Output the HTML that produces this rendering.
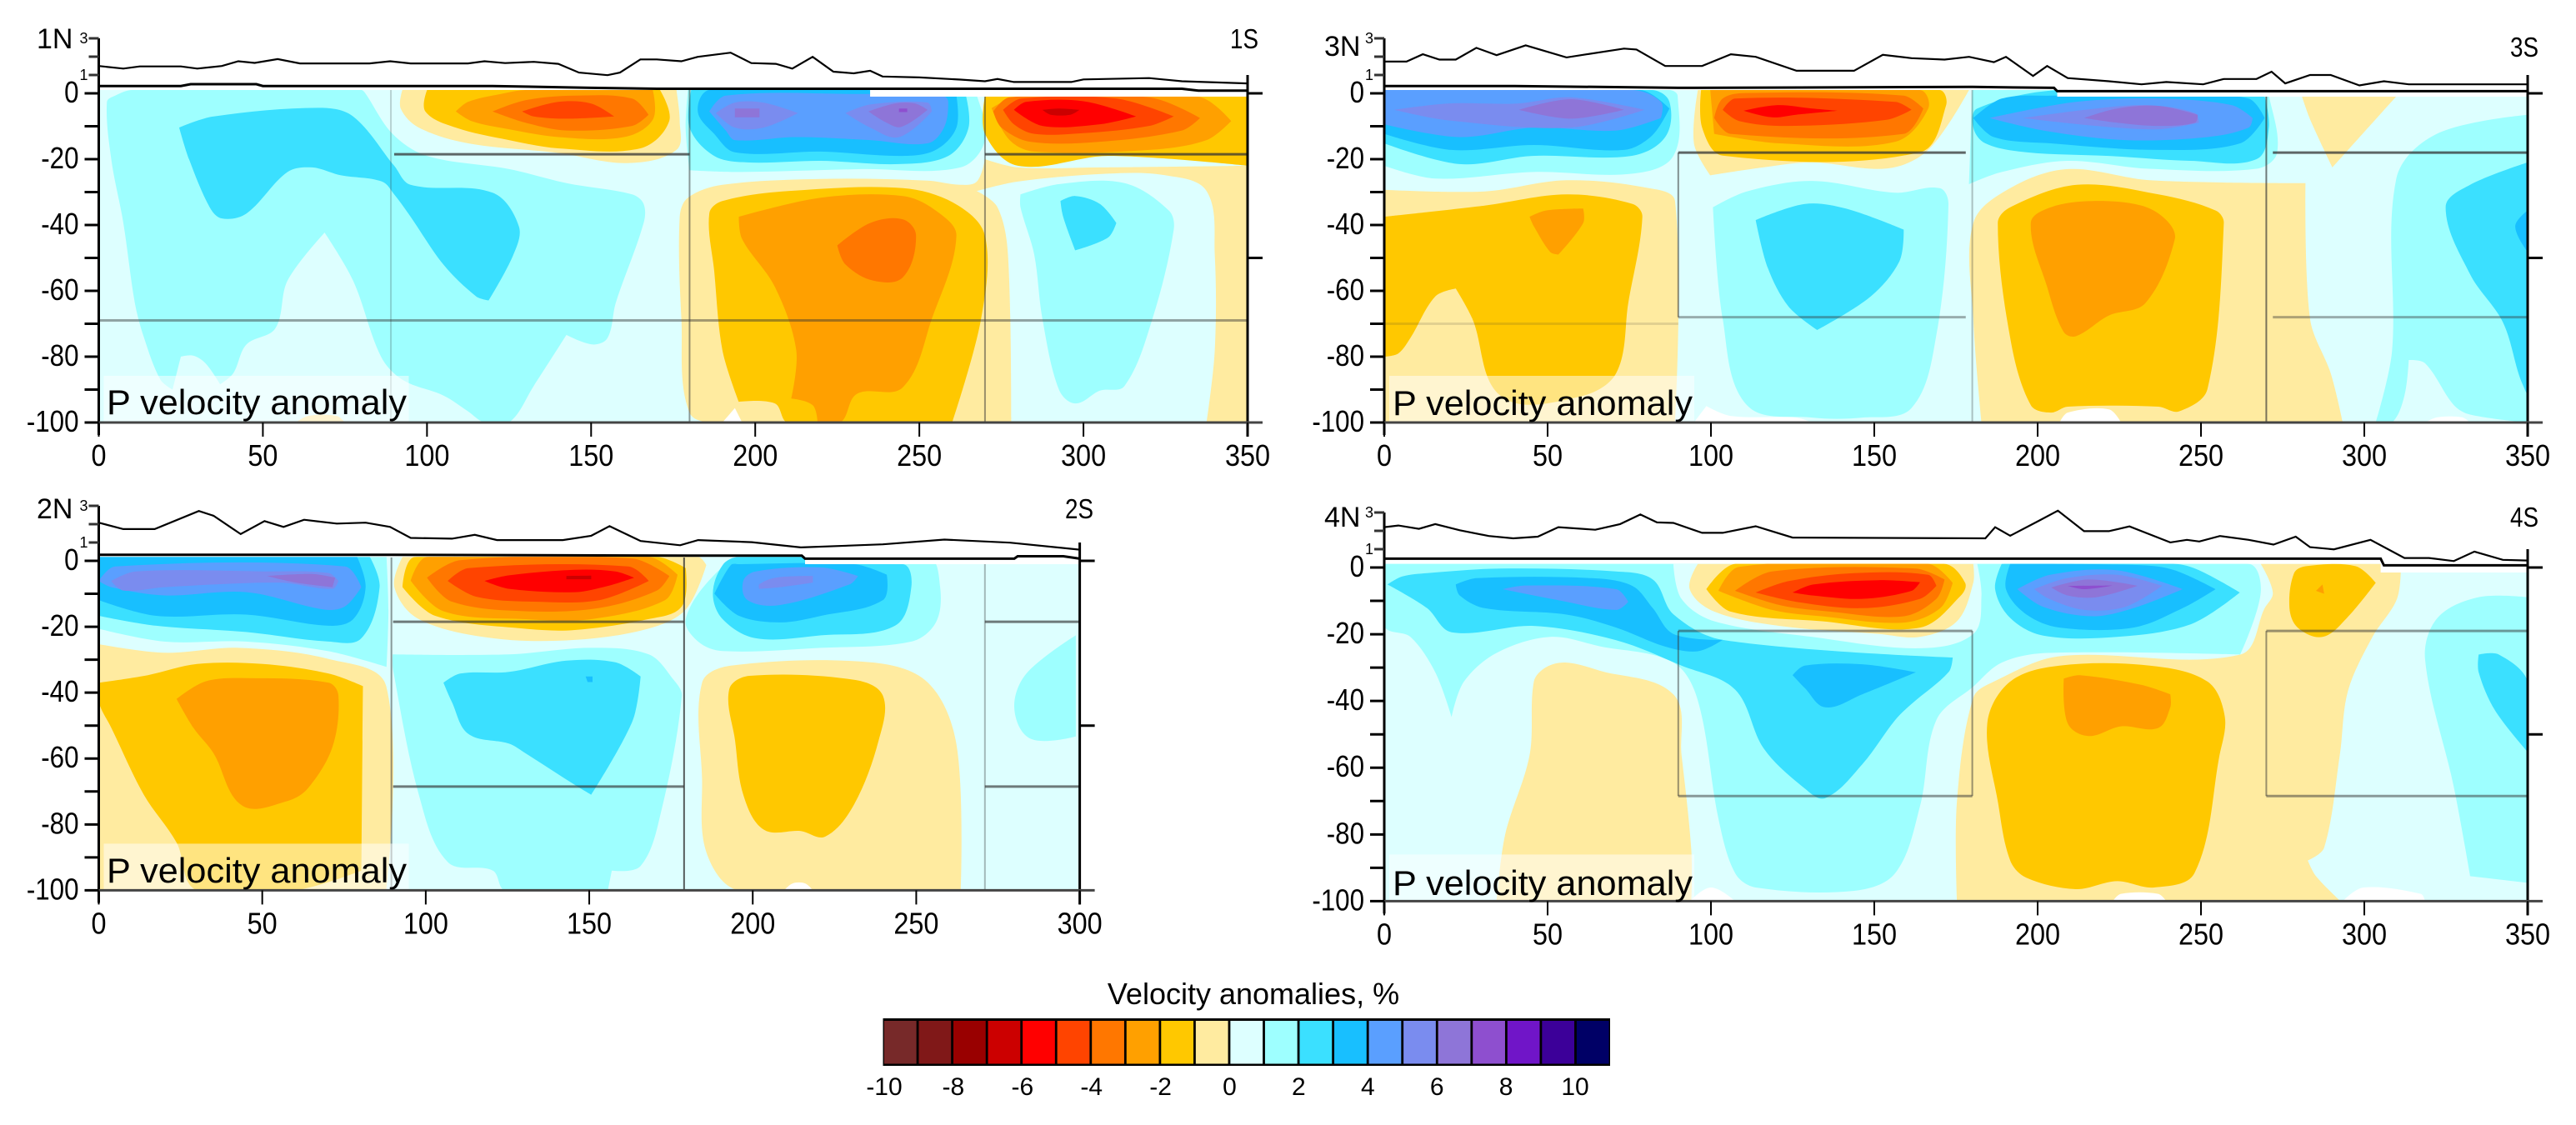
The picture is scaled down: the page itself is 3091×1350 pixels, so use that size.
<!DOCTYPE html>
<html lang="en">
<head>
<meta charset="utf-8">
<title>P velocity anomaly sections</title>
<style>
html,body{margin:0;padding:0;background:#fff;}
svg{display:block;}
text{font-family:"Liberation Sans",sans-serif;fill:#000;}
</style>
</head>
<body>
<svg id="chart" xmlns="http://www.w3.org/2000/svg" width="3091" height="1350" viewBox="0 0 3091 1350">
<g id="plots"></g>
<g id="legend"></g>

<text x="44" y="58" font-size="34">1N</text>
<text x="1476" y="58" font-size="33" textLength="34" lengthAdjust="spacingAndGlyphs">1S</text>
<text x="1589" y="67" font-size="34">3N</text>
<text x="3012" y="68" font-size="33" textLength="34" lengthAdjust="spacingAndGlyphs">3S</text>
<text x="44" y="622" font-size="34">2N</text>
<text x="1278" y="622" font-size="33" textLength="34" lengthAdjust="spacingAndGlyphs">2S</text>
<text x="1589" y="632" font-size="34">4N</text>
<text x="3012" y="632" font-size="33" textLength="34" lengthAdjust="spacingAndGlyphs">4S</text>

<text x="128" y="497" font-size="42" textLength="360" lengthAdjust="spacingAndGlyphs">P velocity anomaly</text>
<text x="1671" y="498" font-size="42" textLength="360" lengthAdjust="spacingAndGlyphs">P velocity anomaly</text>
<text x="128" y="1059" font-size="42" textLength="360" lengthAdjust="spacingAndGlyphs">P velocity anomaly</text>
<text x="1671" y="1074" font-size="42" textLength="360" lengthAdjust="spacingAndGlyphs">P velocity anomaly</text>

<text x="1504" y="1205" font-size="36" text-anchor="middle">Velocity anomalies, %</text>
</svg>
<script>
const colorScale = ['#772929','#801818','#990000','#CC0000','#FF0000','#FF4400','#FF7700','#FFA000','#FFC800','#FFEBA0','#DDFFFF','#9EFFFF','#3BE0FF','#18BFFF','#5A9FFF','#7A8CEF','#8E75D8','#8E4FCF','#7015C8','#3C0099','#000066'];
const legendTicks = [-10,-8,-6,-4,-2,0,2,4,6,8,10];
const depthTicks = [0,-10,-20,-30,-40,-50,-60,-70,-80,-90,-100];
const depthLabels = [0,-20,-40,-60,-80,-100];
const elevationTicks = [1,2,3];
const xTicks350 = [0,50,100,150,200,250,300,350];
const xTicks300 = [0,50,100,150,200,250,300];

const p1Profile = [[0,1.49],[7.5,1.35],[12.5,1.47],[25,1.47],[30,1.35],[37.5,1.49],[42.5,1.75],[47.5,1.66],[54.5,1.87],[61.3,1.63],[82.5,1.63],[88.8,1.75],[95,1.63],[112.5,1.63],[117.5,1.75],[123.8,1.65],[132.5,1.72],[140,1.61],[146.3,1.13],[155,.99],[158.8,1.13],[165,1.85],[170,1.85],[177.5,1.75],[182.5,1.99],[192.5,2.22],[198.8,1.65],[206.3,1.61],[211.3,1.35],[217.5,1.99],[223.8,1.18],[230,1.09],[235,1.23],[238.8,.92],[250,.87],[262.5,.75],[270,.66],[273.8,.78],[278.8,.62],[296.3,.62],[300,.76],[320,.83],[330,.66],[350,.54]];
const p1Surface = [[0,.4],[25,.4],[28,.5],[48,.5],[50,.4],[120,.4],[150,.3],[170,.25],[330,.25],[335,.15],[350,.15]];
const p1HLines = [[90,180,-18.5],[270,350,-18.5],[0,350,-69]];
const p1VLines = [[89,1,-100],[180,1,-100],[270,-1,-100]];
const p1Contours = [
[1,[[2.5,-2.6],[3.8,-20],[7.5,-39.4],[11,-63.7],[13.8,-74.3],[18.8,-87],[22.5,-90],[25,-80],[28.8,-79.7],[32.5,-82],[37,-88.4],[41,-85],[45,-76.3],[53.8,-71.4],[57.5,-56.9],[68.8,-42.3],[77.5,-56.9],[86,-80],[92.5,-87],[105,-91.8],[112.5,-96.6],[117.5,-100],[125,-100],[132.5,-88.9],[142.5,-73.4],[150.5,-76.3],[155,-74.3],[157.5,-63.7],[166,-39.4],[166,-33.6],[162.5,-30.7],[142.5,-27.3],[125,-23],[100,-19],[89.5,-12.3],[81,.3],[80,1],[10,1],[5,-.7]]],
[2,[[24.5,-10.4],[35,-7],[67.5,-4.4],[77.5,-7],[90,-22],[95,-27.8],[120,-30.2],[128,-40.4],[126.3,-49.1],[118.8,-62.9],[115,-61.7],[105,-52],[95,-37.5],[90,-30.7],[86.3,-26.8],[73.8,-24.9],[65,-22.5],[57.5,-23.9],[45,-36.5],[37.5,-38],[33.8,-34.6],[27.5,-20]]],
[-1,[[92.5,1],[92,-4.6],[97.5,-10.4],[112.5,-15.2],[140,-18.1],[161,-21.2],[176,-17.2],[177,-8.4],[176,1]]],
[-2,[[100,1],[99.5,-5.5],[108.8,-10.4],[125,-14.2],[140,-16.7],[165,-16.7],[173.8,-8.4],[171,1]]],
[-3,[[108.8,-5.5],[112.5,-2.6],[122.5,-.2],[130,1],[168.8,1],[168.8,-8],[160,-13.3],[140,-13.3],[125,-10.9],[113.8,-8.5]]],
[-4,[[120,-5.5],[130,-2.1],[145,-.7],[162.5,-1.6],[167.5,-6.5],[162.5,-9.9],[142.5,-11.3],[130,-8.9]]],
[-5,[[129,-5.5],[140,-2.6],[150,-3.1],[157,-7],[142.5,-7.7],[132.5,-7]]],
[1,[[179.5,1],[178.8,-10.4],[180,-23.4],[195,-23.9],[232.5,-23],[262.5,-22.5],[270,-14.2],[267.5,-.7],[265,1]]],
[2,[[180.5,1],[180,-10.4],[187.5,-19],[197.5,-21],[220,-20.5],[243.8,-21.5],[258.8,-19],[265,-10.4],[263.8,1]]],
[3,[[186,1],[182.5,-5.5],[187.5,-12.3],[193.8,-17.9],[220,-17.7],[245,-19],[255,-17.2],[261.3,-10.4],[261.3,-.7],[233.8,1]]],
[4,[[191,-.7],[186,-5.5],[191,-11.3],[193.8,-14.2],[212.5,-13.3],[235,-14.2],[252.5,-15.2],[257.5,-10.4],[258.8,-2.6],[257.5,-.9],[230,-.2]]],
[5,[[188,-6],[193.8,-2.8],[202.5,-2.8],[213,-6],[202.5,-10.4],[193.8,-10.4]]],
[5,[[227.5,-6],[235,-3.4],[252.5,-2.8],[253.8,-5.5],[243.8,-13.3],[235,-10.4]]],
[6,[[193.8,-4.6],[201.3,-4.6],[201.3,-7.3],[193.8,-7.3]]],
[6,[[234.5,-5.5],[242.5,-3.1],[248.8,-3.1],[252.5,-5],[244.5,-10.2],[240,-8.9]]],
[7,[[243.8,-4.6],[246.3,-4.6],[246.3,-5.7],[243.8,-5.7]]],
[-1,[[179.5,-31.7],[190,-27.8],[220,-26],[252.5,-26.5],[262.5,-27.8],[267.5,-26.8],[270,-20],[280,-22.5],[305,-22.5],[350,-22],[350,-100],[190,-100],[180,-97],[177.5,-68.5],[177,-37.5]]],
[0,[[267.5,-29.7],[280,-26.8],[307.5,-24.4],[325,-24.9],[337.5,-29.7],[340,-49],[340,-78.2],[337.5,-100],[278,-100],[277,-49],[273.8,-34.6]]],
[1,[[280.8,-30.7],[292.5,-27.6],[312.5,-27.3],[326,-35.6],[327.5,-41.4],[321,-68.5],[312.5,-88.9],[305,-90.3],[297.5,-94.2],[292.5,-89.9],[287.5,-68.5],[285,-49],[280.8,-34.6]]],
[2,[[293,-32.7],[297.5,-31.2],[305,-33.6],[310,-39.4],[307.5,-43.8],[297.5,-47.7],[293.8,-37.5]]],
[-2,[[186,-36.5],[190,-32.7],[210,-29.7],[245,-28.8],[261,-33.6],[270,-43.3],[268.8,-68.5],[260,-100],[210,-100],[206,-94.2],[195,-93.7],[190,-78],[187.5,-54]]],
[-3,[[195,-37.5],[220,-31.7],[245,-31.2],[255,-35.6],[261.3,-43.3],[253.8,-68.5],[245,-89.3],[231,-91.3],[226,-100],[219,-100],[217.5,-94.7],[211,-92.7],[212.5,-78],[206,-58.8],[196,-44.3]]],
[-4,[[225,-46.2],[235,-39.4],[245,-38.3],[249,-43.3],[245,-55.9],[236,-56.9],[227.5,-52]]],
[-2,[[270,-.9],[270,-12.3],[280,-22],[307.5,-19],[350,-22],[350,-.9]]],
[-3,[[272,-4.5],[280,-1],[335,-1],[345,-8.4],[337.5,-14.2],[320,-17.2],[285,-17.7],[277.5,-14.2]]],
[-4,[[272.5,-5.5],[277.5,-1.2],[320,-1.2],[335.5,-7.5],[330,-11.3],[305,-14.7],[283.8,-14.7],[275,-10.4]]],
[-5,[[275.5,-5],[281,-1.6],[310,-1.6],[327.5,-7],[320,-9.9],[300,-12.1],[285,-12.3],[278.8,-9.4]]],
[-6,[[278.8,-5],[282.5,-2.6],[300,-2.4],[316,-7],[305,-9.4],[287.5,-9.9]]],
[-7,[[287.5,-5],[292.5,-4.6],[298.8,-5],[296,-6.5],[290,-6.5]]],
[null,[[190,-100],[193.8,-95.6],[196,-100]]],
[-1,[[60,-100],[63.8,-98],[72.5,-98],[75,-100]]]
];

const p3Profile = [[0,1.73],[6.8,1.73],[11.8,2.13],[16.9,1.84],[21.9,1.84],[28.2,2.48],[34.4,2.08],[43.3,2.62],[55.8,1.96],[62.1,2.13],[73.4,2.44],[77.2,2.39],[86,1.49],[97.3,1.49],[106.1,2.13],[113.7,1.99],[126.2,1.23],[143.8,1.23],[152.6,2.1],[161.4,1.92],[171.5,1.84],[179,1.99],[186.6,1.7],[190.3,1.99],[198.6,.95],[202.9,1.49],[209.2,.83],[221.8,.66],[231.8,.49],[239.4,.62],[250.7,.49],[257,.78],[267,.78],[271.6,1.18],[275.8,.54],[283.4,1],[289.7,1],[298.5,.43],[306,.66],[313.6,.49],[350,.49]];
const p3Surface = [[0,.4],[40,.4],[90,.3],[180,.35],[205,.3],[206,.12],[350,.12]];
const p3HLines = [[90,178,-18],[272,350,-18],[90,178,-68],[272,350,-68],[0,90,-70]];
const p3VLines = [[90,-18,-68],[180,1,-100],[270,-1,-100]];
const p3Contours = [
[1,[[0,1],[0,-22],[15.6,-25.9],[45.8,-23.9],[76,-24.4],[88.5,-19],[89.8,-.7],[87.3,1]]],
[2,[[0,1],[0,-15.2],[23,-21.5],[45.3,-19],[75.6,-19],[86,-13.3],[87.3,-2.6],[82,1]]],
[3,[[0,1],[0,-12.3],[20.5,-17.2],[45.8,-15.7],[73.4,-17.2],[82,-12.8],[87.3,-4.6],[78.5,1]]],
[4,[[0,1],[0,-9.4],[23,-13.3],[45.8,-10.4],[71,-11.3],[84.7,-7.5],[84.7,-2.6],[76,1]]],
[5,[[3,-5],[19.4,-3.1],[40.7,-3.1],[57,-1.2],[79.7,-5],[57,-10.4],[19.4,-8.2]]],
[6,[[41.2,-5],[57,-1.8],[73.4,-5],[57,-7.7]]],
[-1,[[96,1],[94.8,-15.2],[99.8,-24.9],[116,-22.5],[131,-21],[154,-22.8],[166.5,-17.2],[179,1]]],
[-2,[[97,1],[97.3,-10.4],[103.6,-18.9],[164,-17.9],[172,-3.6],[170,1]]],
[-3,[[99.8,1],[101,-12.3],[121,-15.2],[156.4,-14.7],[166.5,-4.6],[164,1]]],
[-4,[[103.6,-1.6],[101,-7.5],[106,-12.3],[159,-12.3],[165,-4.6],[159,-.7],[111,.1]]],
[-5,[[103.6,-5],[107.4,-1.6],[156.4,-2.6],[161.4,-5],[154,-8],[123.7,-9.9],[108.6,-8.4]]],
[-6,[[110,-5.3],[120,-3.6],[131,-4.6],[138.8,-5.3],[126,-6.5],[118.7,-7.3]]],
[1,[[180,1],[179,-27.6],[189,-23.9],[209,-20.5],[234,-22.9],[267,-22.9],[273.3,-18],[270.8,-.7],[269.5,1]]],
[2,[[180.3,-10.4],[184,-15.2],[196.6,-17.9],[221.7,-19],[246.8,-20.5],[267,-20],[270.8,-10.4],[269.5,-.9],[207,1],[181.5,-4.6]]],
[3,[[180.3,-7.5],[186.6,-13.3],[204,-15.2],[236.9,-17.2],[262,-15.2],[269.5,-7.5],[264.6,-1.6],[244.4,-.7],[204.2,-.7],[189,-1.6]]],
[4,[[185.3,-7.5],[201.7,-11.3],[226.8,-14.2],[252,-13.3],[264.6,-10.4],[265.8,-7.5],[259.5,-3.6],[236.9,-1.6],[211.7,-2.6]]],
[5,[[195.4,-7.5],[218,-4.6],[234.3,-3.6],[248.2,-6],[249.4,-8.9],[236.9,-10.9],[218,-9.9]]],
[6,[[214.2,-7.5],[224.3,-4.6],[236.9,-3.8],[249,-6.5],[248.2,-8.9],[236.9,-9.9],[224.3,-8.9]]],
[-1,[[0,-29.3],[30.7,-29.8],[55.8,-26.4],[81,-28.8],[89,-32.7],[89,-100],[0,-100]]],
[-2,[[0,-37.5],[30.7,-34.1],[55.8,-30.7],[76,-33.6],[79,-37.5],[74.7,-63.7],[71,-85],[59.6,-92.2],[36,-92.2],[27,-68.5],[21.9,-59.3],[15.6,-61.7],[8,-74.3],[4.3,-79],[0,-80]]],
[-3,[[44.5,-37.5],[49.5,-35.6],[60.9,-35],[60.9,-39.4],[53.3,-49],[50.8,-48.2],[45.8,-40.4]]],
[1,[[100.6,-34.6],[111,-29.8],[131,-26.6],[156.4,-30.2],[170,-28.8],[172.7,-33.6],[169,-73.4],[161.4,-95.6],[146.3,-98.5],[131,-98.5],[111,-94.7],[103.6,-68.5]]],
[2,[[113.7,-38.5],[128.8,-33.6],[141.3,-35],[159,-41.4],[157.7,-51],[148.9,-61.7],[132.5,-71.9],[123.7,-64.7],[117.4,-53]]],
[-1,[[180.3,-39.4],[191.6,-28.8],[209.2,-23],[234.3,-26.4],[282,-27.3],[283.4,-68.5],[289.7,-85],[293.4,-100],[229.3,-100],[182.8,-100],[180.3,-68.5]]],
[-2,[[187.8,-39.4],[191.6,-34.6],[212,-27.8],[237,-30.7],[254.5,-35.6],[257,-39.4],[252,-89.8],[243.3,-96.6],[237,-95.2],[209.2,-95.2],[204,-97],[197.9,-94.7],[191.6,-74.3]]],
[-3,[[197.9,-39.4],[204,-34.6],[216.8,-32.7],[231.8,-34.1],[239.4,-38.5],[242,-44.3],[233,-63.7],[221.8,-67.5],[211.7,-73.8],[207.9,-72.4],[202.9,-58.8]]],
[-1,[[280.9,-.9],[283.4,-7.9],[290.2,-22.5],[309.8,-.9]]],
[1,[[350,-6.5],[322.2,-12.3],[309.8,-25.9],[308.5,-78.2],[303.5,-100],[308.5,-100],[312.3,-91.8],[313.6,-81],[318.6,-82],[327.4,-94.7],[332.4,-97.6],[350,-100]]],
[2,[[350,-21],[332.4,-27.8],[324.9,-34.6],[332.4,-55],[342.4,-69.5],[347.5,-86],[350,-91.8]]],
[3,[[350,-35.6],[346.2,-40.4],[350,-48.2]]],
[null,[[94.8,-100],[98.6,-95],[106,-98],[126,-98.5],[131,-100]]],
[null,[[206.7,-100],[209.2,-97],[221.8,-96],[225.5,-100]]],
[null,[[318.6,-100],[322.4,-98.4],[329.9,-98.4],[332.4,-100]]]
];

const p2Profile = [[0,2.08],[7.5,1.73],[17.1,1.73],[30.6,2.72],[35.1,2.46],[43.4,1.46],[50.7,2.17],[56.5,1.85],[62.8,2.24],[72.8,2.03],[81.6,2.08],[89.1,1.85],[95.4,1.25],[108,1.21],[115,1.42],[121.8,1.13],[141.9,1.13],[150.6,1.37],[156.2,1.89],[165.7,1.08],[177.8,.85],[183.3,1.13],[199.7,1.02],[214.7,.73],[239.8,.9],[258.6,1.16],[278.7,.99],[300,.61]];
const p2Surface = [[0,.33],[90,.33],[180,.28],[215,.28],[216,.12],[280,.12],[281,.25],[295,.25],[300,.12]];
const p2HLines = [[90,179,-18.5],[271,300,-18.5],[90,179,-68.5],[271,300,-68.5]];
const p2VLines = [[89.5,1,-100],[179,1,-100],[271,-1,-100]];
const p2Contours = [
[1,[[0,1.2],[0,-20.6],[20,-24.5],[45,-24.5],[70,-27.4],[88,-32.2],[88.6,-15],[88,1.2]]],
[2,[[0,1.2],[0,-16.7],[17.6,-19.7],[45,-21.6],[70.3,-24.5],[80.3,-23.5],[85.9,-8],[82.9,1.2]]],
[3,[[0,1.2],[0,-11.9],[17.6,-16.7],[45,-16.3],[70.3,-19.7],[77.8,-17.7],[81.6,-8],[79,1.2]]],
[4,[[0,-6.1],[5,-1.7],[75.3,-1.7],[80.3,-8],[75.3,-13.8],[69,-14.8],[45.2,-9.5],[20,-10.5],[3.8,-8]]],
[5,[[3.8,-6.1],[11.3,-3.2],[50.2,-3.2],[70.3,-3.7],[73.3,-6.1],[71.5,-8.5],[55.2,-6.6],[20,-8],[7.5,-9]]],
[6,[[51.5,-4.6],[65.3,-4],[72.3,-5.1],[71.5,-8],[60.3,-6.6]]],
[-1,[[92.9,1.2],[90.4,-8],[97.9,-17.7],[120.5,-23.5],[145.6,-24],[168,-20.6],[179.5,-14.8],[185.8,-1.3],[183.3,1.2]]],
[-2,[[96.7,1.2],[92.9,-8],[102.9,-16.7],[130.5,-20.6],[145.6,-21],[168,-17.7],[178.3,-13.8],[179.5,-2.2],[170.7,1.2]]],
[-3,[[100.4,1.2],[95.4,-6],[105.4,-15.3],[130.5,-17.7],[150.6,-17.7],[173.2,-11.9],[177,-4.2],[168.2,1.2]]],
[-4,[[110.5,.2],[100.4,-5.1],[108,-12.4],[130.5,-15.3],[153.2,-14.3],[170.7,-9],[174.5,-4.6],[163.2,.7]]],
[-5,[[113,-2.2],[106.7,-6.1],[115.5,-10.9],[133,-12.4],[153.2,-11.9],[168.2,-6.1],[162,-1.7]]],
[-6,[[118,-6.1],[125.5,-4.4],[145.6,-2.7],[158,-3.2],[163.7,-5.1],[155.7,-7.6],[145.6,-9.5],[125.5,-8.5]]],
[-7,[[143,-4.6],[150.6,-4.5],[150.6,-5.6],[143,-5.6]]],
[1,[[197.9,1.2],[188.3,-4.2],[179.5,-17.7],[183.3,-24.5],[190.8,-27.4],[220.9,-26.4],[248.5,-24.5],[256,-18.7],[257.3,-8],[253.6,1.2]]],
[2,[[190.8,-1.3],[187.8,-10],[190.8,-17.7],[200.9,-23.5],[220.9,-22.6],[243.5,-19.7],[248.5,-8],[246,-1],[195.8,1.2]]],
[3,[[193.3,-1.3],[188.3,-10],[195.8,-16.7],[208.4,-18.7],[220.9,-16.7],[239.8,-11.9],[241,-4.2],[231,-1],[195.8,-1]]],
[4,[[197.1,-6.1],[200.9,-3.2],[220.9,-2],[232.2,-4.6],[229.7,-7.1],[208.4,-13.4],[198.4,-11.9]]],
[5,[[202,-7.1],[207,-5.1],[218.4,-4.6],[218.4,-6.6],[208.4,-8],[202,-8.5]]],
[-1,[[0,-25.3],[20,-27.9],[42.7,-26.4],[70.3,-29.8],[87.9,-38],[87.9,-100],[0,-100]]],
[-2,[[0,-37],[15,-34.7],[30.1,-31.3],[50.2,-31.3],[70.3,-34.2],[80.8,-38],[80.3,-94],[60,-100],[30,-100],[23.8,-85.5],[13.8,-71],[3.8,-50.6],[0,-42.9]]],
[-3,[[23.8,-41.9],[32.6,-36.6],[45.2,-35.6],[70.3,-37],[73.3,-40.9],[71.5,-56.4],[64,-69],[57.7,-72.9],[43.9,-74.3],[35.1,-58.4],[28.9,-50.6]]],
[1,[[89.9,-28.4],[125.5,-28.4],[150.6,-26.4],[168.2,-28.4],[175.7,-36],[178.3,-41],[172,-76],[165.7,-92.6],[156.9,-94],[155.7,-100],[124.3,-100],[120.5,-94],[106.7,-91.4],[97.9,-71],[90,-33]]],
[2,[[105.4,-37],[110.5,-34.2],[125.5,-33.7],[143,-30.3],[158,-30.8],[165.7,-35.1],[163.2,-48.7],[150.6,-71],[145.6,-68],[130.5,-58.4],[125.5,-55.5],[113,-52.5],[108,-42.9]]],
[3,[[148.9,-35.1],[151,-35.1],[151,-36.8],[149.5,-36.8]]],
[-1,[[184.5,-37],[193.3,-31.8],[236,-30.8],[253.6,-37],[262.4,-56.4],[263.6,-100],[195.8,-100],[185.8,-88.4],[184.5,-66.1]]],
[-2,[[192.8,-39],[199,-34.9],[231,-36.1],[239.8,-40.9],[238.5,-54.5],[231,-73.9],[222.2,-83.7],[214.7,-82],[203.4,-81.6],[197.1,-71],[194.6,-54.5]]],
[1,[[298.8,-22.6],[283.7,-34.2],[280,-44.8],[285,-54],[298.8,-53.3]]],
[null,[[209.6,-100],[212.2,-97.9],[216,-97.9],[218.4,-100]]]
];

const p4Profile = [[0,2.2],[4.3,2.29],[10.6,2.11],[15.6,2.37],[23.1,2.03],[32,1.72],[39.5,1.59],[47,1.68],[53.3,2.2],[64.6,2.06],[72.2,2.37],[78.4,2.89],[83.5,2.46],[88.5,2.43],[97.3,1.89],[103.6,1.89],[113.7,2.25],[125,1.63],[184,1.59],[187,2.2],[191.6,1.73],[200.4,2.55],[206.2,3.1],[214.2,1.98],[221.8,1.98],[228.1,2.24],[240.6,1.37],[245.7,1.51],[249.5,1.42],[255.8,1.72],[264.6,1.51],[272.2,1.25],[279,1.68],[283.4,1.11],[290.7,.99],[301.9,1.51],[312.3,.52],[319.8,.52],[327.4,.35],[333.7,.87],[342.4,.42],[350,.38]];
const p4Surface = [[0,.48],[305,.48],[306,.12],[350,.12]];
const p4HLines = [[90,180,-19],[270,350,-19],[90,180,-68.5],[270,350,-68.5]];
const p4VLines = [[90,-19,-68.5],[180,-19,-68.5],[270,-19,-68.5]];
const p4Contours = [
[1,[[0,1.1],[0,-17.5],[8,-20.8],[15.6,-31.4],[20.6,-44.8],[24.4,-34.2],[34.4,-25.6],[50.8,-20.8],[65.9,-23.6],[88.5,-28.5],[96,-39.9],[102.3,-75.3],[107.4,-91.6],[113.7,-95.9],[143.8,-96.9],[156.4,-91.6],[164,-71.5],[169,-45.7],[180.3,-35.7],[189,-28.5],[203,-25.6],[262,-26.1],[268.3,-7.5],[264.5,1.1]]],
[0,[[88.5,1.1],[91,-9.4],[101,-16.1],[131,-20.8],[164,-24.2],[180.3,-19.9],[182.8,-8.4],[181.5,1.1]]],
[2,[[1,-5.1],[5.5,-2.7],[13.1,-1.7],[35.7,-.3],[71,-1.2],[82.2,-3.6],[88.5,-14],[103.6,-21.7],[174,-27],[172.8,-31.3],[161.4,-40.9],[156.4,-45.7],[146.3,-59],[135,-69.1],[128.7,-66.2],[116.2,-54.3],[107.4,-36.6],[91,-29.4],[71,-21.8],[45.8,-17.5],[20.6,-19.4],[13.1,-12.2]]],
[3,[[21.9,-5.1],[28.2,-3.2],[63.4,-3.2],[75.9,-5.5],[82.2,-12.2],[88.5,-19.9],[103.6,-21.7],[96,-25.1],[86,-23.7],[71,-18],[55.8,-14.1],[30.7,-12.2],[23.1,-8.4]]],
[3,[[125,-32.3],[128.7,-29.4],[146.3,-29],[162.7,-31.4],[146.3,-38],[135,-41.9],[128.7,-36.1]]],
[4,[[36.2,-6.5],[43.3,-5.4],[71,-6.5],[74.7,-10.3],[71,-12.7],[53.3,-9.8]]],
[-1,[[96,1.1],[93.5,-6.5],[101,-13.2],[121,-17.5],[151.4,-19.9],[164,-20.8],[175.3,-16.1],[180.3,-4.6],[180.3,1.1]]],
[-2,[[107.4,1.1],[98.6,-6.5],[106,-13.2],[134,-16.1],[164,-18],[176.5,-8.4],[177.8,-4.6],[171.5,1.1]]],
[-3,[[108.6,.2],[102.3,-7],[118.7,-12.7],[133.8,-14.6],[159,-16.5],[170.2,-12.2],[174,-4.6],[166.5,1.1]]],
[-4,[[107.4,-7],[121.2,-11.3],[136.3,-13.2],[159,-14.6],[169,-9.4],[171.5,-3.6],[162.7,-.3],[118.7,-1.2]]],
[-5,[[113.7,-7.5],[123.7,-4.1],[143.8,-1.7],[166.5,-2.2],[169,-5.5],[164,-9.4],[146.3,-12.2],[126.2,-10.3]]],
[-6,[[125,-7.5],[131.3,-5.1],[151.4,-3.8],[164,-4.4],[161.4,-7],[146.3,-9.4],[131.3,-8.4]]],
[2,[[189,1.1],[187,-6.5],[191.6,-15.1],[201.7,-20.4],[224.3,-20.8],[246.9,-17],[261.9,-7.5],[249.4,-.8],[241.9,1.1]]],
[3,[[191.6,1.1],[190.3,-6.5],[196.6,-14.1],[206.7,-18],[229.3,-18],[244.4,-12.2],[254.5,-6.5],[241.9,-.8],[231.8,.7]]],
[4,[[193.8,-6.5],[203.8,-2.2],[224,-.8],[244.4,-6.5],[229.3,-12.2],[216.8,-14.6],[201.7,-11.8]]],
[5,[[199,-6.5],[209,-3.2],[224.3,-2.2],[238.1,-5.5],[226.8,-11.8],[214.2,-12.7],[203.3,-9.3]]],
[6,[[204.2,-6],[215.5,-3.6],[230.6,-5.5],[218,-8.9],[209.2,-8.4]]],
[7,[[209.2,-5.5],[223,-5.4],[214.2,-6.5]]],
[-1,[[55.8,-28.5],[65.9,-30.9],[88.5,-38],[91,-56.2],[94,-84.9],[94,-100],[34.4,-100],[37,-80.1],[44.5,-56.2],[45.8,-34.2],[49.5,-29.9]]],
[-1,[[180.3,-39],[186.6,-34.2],[206.7,-26.6],[262,-26.1],[269.5,-12.2],[272,-7.5],[268.3,1.1],[311.2,1.1],[310,-9.4],[302.5,-20.8],[295,-37],[292.5,-56.2],[287.7,-84],[282.7,-87.8],[285.2,-92.5],[292.7,-100],[175.3,-100],[175.3,-70]]],
[-2,[[184.6,-46.7],[191.6,-34.2],[206.7,-29.4],[234.3,-29.4],[252,-34.2],[257.3,-44.7],[255.7,-56.2],[248,-91.6],[235.6,-95.9],[224.3,-94],[211.7,-96.4],[196.6,-93],[191.6,-87.8],[187.9,-70.6]]],
[-3,[[208,-33.3],[213,-32.3],[231.8,-35.2],[240.6,-38],[240.6,-41.9],[236.9,-48.1],[225.5,-47.6],[215.5,-50.5],[209.2,-46.7]]],
[-2,[[278.5,-1.7],[282.2,.4],[297.3,.4],[303.5,-4.6],[294.7,-15.1],[287.2,-20.8],[279.6,-18],[277.1,-12.2]]],
[-3,[[285.2,-7],[287.2,-5.1],[287.7,-7.9]]],
[1,[[350,-8.9],[335,-8.9],[322.4,-15.1],[318.6,-27.5],[327.4,-65.8],[332.4,-92.5],[350,-94.5]]],
[2,[[350,-34.2],[341.2,-26.1],[335,-26.1],[335,-31.4],[340,-42.8],[350,-55.3]]],
[null,[[223,-100],[225.5,-97.8],[236.9,-97.8],[239.4,-100]]],
[null,[[293.4,-100],[299.7,-95.9],[317.3,-97.8],[318.6,-100]]],
[null,[[93.6,-100],[100,-95.9],[107.4,-100]]]
];

const NS = 'http://www.w3.org/2000/svg';
function mk(tag, parent, attrs) {
  const el = document.createElementNS(NS, tag);
  for (const k in attrs) el.setAttribute(k, attrs[k]);
  parent.appendChild(el);
  return el;
}
function levelColor(level) {
  return level === null ? '#FFFFFF' : colorScale[level + 10];
}
/* Closed curve through the contour vertices; sharp turns stay as corners. */
function smoothClosedPath(pts) {
  const n = pts.length;
  const tangents = pts.map((p, i) => {
    const a = pts[(i - 1 + n) % n], b = pts[(i + 1) % n];
    const ux = p[0] - a[0], uy = p[1] - a[1], vx = b[0] - p[0], vy = b[1] - p[1];
    const lu = Math.hypot(ux, uy) || 1, lv = Math.hypot(vx, vy) || 1;
    if ((ux * vx + uy * vy) / (lu * lv) < 0.35) return [0, 0];
    const tx = b[0] - a[0], ty = b[1] - a[1], lt = Math.hypot(tx, ty) || 1;
    return [tx / lt, ty / lt];
  });
  let d = 'M' + pts[0][0].toFixed(1) + ' ' + pts[0][1].toFixed(1);
  for (let i = 0; i < n; i++) {
    const j = (i + 1) % n;
    const len = Math.hypot(pts[j][0] - pts[i][0], pts[j][1] - pts[i][1]) * 0.33;
    d += 'C' + (pts[i][0] + tangents[i][0] * len).toFixed(1) + ' ' + (pts[i][1] + tangents[i][1] * len).toFixed(1) +
         ' ' + (pts[j][0] - tangents[j][0] * len).toFixed(1) + ' ' + (pts[j][1] - tangents[j][1] * len).toFixed(1) +
         ' ' + pts[j][0].toFixed(1) + ' ' + pts[j][1].toFixed(1);
  }
  return d + 'Z';
}

function drawPanel(id, frame, xMax, xTickValues, contours, profile, surface, hLines, vLines, gapStart, topDepth, gapDepth, hOpacity, vOpacity) {
  const plots = document.getElementById('plots');
  const xs = km => frame.left + km / xMax * (frame.right - frame.left);
  const ys = d => frame.top - d / 100 * (frame.bottom - frame.top);
  const es = e => frame.top - e * 22;
  const g = mk('g', plots, {});
  
  

  const clipId = 'clip' + id;
  const defs = mk('defs', g, {});
  const clip = mk('clipPath', defs, {id: clipId});
  mk('rect', clip, {x: xs(0), y: ys(topDepth), width: xs(xMax) - xs(0), height: ys(-100) - ys(topDepth)});

  const field = mk('g', g, {'clip-path': 'url(#' + clipId + ')'});
  const bg = mk('rect', field, {x: xs(0), y: ys(topDepth), width: xs(xMax) - xs(0), height: ys(-100) - ys(topDepth), fill: levelColor(0)});
  
  

  contours.forEach(item => {
    const pts = item[1].map(p => [xs(p[0]), ys(p[1])]);
    const poly = mk('path', field, {d: smoothClosedPath(pts), fill: levelColor(item[0])});
    
    
  });

  const gap = mk('rect', g, {x: xs(gapStart), y: ys(topDepth) - 1, width: xs(xMax) - xs(gapStart), height: ys(gapDepth) - ys(topDepth) + 1, fill: '#fff'});
  
  

  hLines.forEach((s, i) => {
    const l = mk('line', g, {x1: xs(s[0]), x2: xs(s[1]), y1: ys(s[2]), y2: ys(s[2]), stroke: '#333', 'stroke-width': 3, 'stroke-opacity': hOpacity[i]});
    
    
  });
  vLines.forEach((s, i) => {
    const l = mk('line', g, {x1: xs(s[0]), x2: xs(s[0]), y1: ys(s[1]), y2: ys(s[2]), stroke: '#333', 'stroke-width': 2, 'stroke-opacity': vOpacity[i]});
    
    
  });

  const box = mk('rect', g, {x: frame.left + 6, y: frame.bottom - 56, width: 366, height: 56, fill: '#fff', 'fill-opacity': 0.5});
  
  

  const prof = mk('polyline', g, {points: profile.map(p => xs(p[0]).toFixed(1) + ',' + es(p[1]).toFixed(1)).join(' '), fill: 'none', stroke: '#000', 'stroke-width': 2.2});
  
  
  const surf = mk('polyline', g, {points: surface.map(p => xs(p[0]).toFixed(1) + ',' + es(p[1]).toFixed(1)).join(' '), fill: 'none', stroke: '#000', 'stroke-width': 3});
  
  

  const axisL = mk('line', g, {x1: frame.left, x2: frame.left, y1: es(3), y2: frame.bottom + 15, stroke: '#000', 'stroke-width': 3});
  
  
  const axisR = mk('line', g, {x1: frame.right, x2: frame.right, y1: es(1), y2: frame.bottom + 17, stroke: '#000', 'stroke-width': 3});
  
  
  const axisB = mk('line', g, {x1: frame.left, x2: frame.right + 18, y1: frame.bottom, y2: frame.bottom, stroke: '#444', 'stroke-width': 3});
  
  

  depthTicks.forEach(d => {
    const t = mk('line', g, {x1: frame.left - 17, x2: frame.left, y1: ys(d), y2: ys(d), stroke: '#000', 'stroke-width': 3});
    
    
  });
  depthLabels.forEach(d => {
    const t = mk('text', g, {transform: 'translate(' + (frame.left - 24) + ' ' + (ys(d) + 11) + ') scale(.87 1)', 'font-size': 36, 'text-anchor': 'end'});
    t.textContent = String(d);
    
    
  });
  elevationTicks.forEach(e => {
    const t = mk('line', g, {x1: frame.left - 12, x2: frame.left, y1: es(e), y2: es(e), stroke: '#333', 'stroke-width': 3});
    
    
  });
  [1, 3].forEach(e => {
    const t = mk('text', g, {x: frame.left - 18, y: es(e) + 6, 'font-size': 18, 'text-anchor': 'middle'});
    t.textContent = String(e);
    
    
  });
  [0, -50].forEach(d => {
    const t = mk('line', g, {x1: frame.right, x2: frame.right + 18, y1: ys(d), y2: ys(d), stroke: '#000', 'stroke-width': 3});
    
    
  });
  xTickValues.forEach(v => {
    const t = mk('line', g, {x1: xs(v), x2: xs(v), y1: frame.bottom, y2: frame.bottom + 17, stroke: '#000', 'stroke-width': 2});
    
    
    const lab = mk('text', g, {transform: 'translate(' + xs(v) + ' ' + (frame.bottom + 52) + ') scale(.9 1)', 'font-size': 36, 'text-anchor': 'middle'});
    lab.textContent = String(v);
    
    
  });
}

drawPanel('1', {left: 118.5, right: 1497, top: 112, bottom: 507}, 350, xTicks350, p1Contours, p1Profile, p1Surface, p1HLines, p1VLines, 235, 1, -1, [.75,.75,.45], [.22,.5,.5]);
drawPanel('3', {left: 1661, right: 3033, top: 112, bottom: 507}, 350, xTicks350, p3Contours, p3Profile, p3Surface, p3HLines, p3VLines, 206, 1, -1, [.75,.75,.4,.4,.15], [.55,.3,.65]);
drawPanel('2', {left: 118.5, right: 1295.6, top: 673, bottom: 1068.4}, 300, xTicks300, p2Contours, p2Profile, p2Surface, p2HLines, p2VLines, 216, 1.2, -1, [.65,.65,.65,.65], [.5,.8,.35]);
drawPanel('4', {left: 1661, right: 3033, top: 681, bottom: 1081.4}, 350, xTicks350, p4Contours, p4Profile, p4Surface, p4HLines, p4VLines, 305, 1.1, -1.5, [.5,.5,.5,.5], [.5,.5,.5]);

(function drawLegend() {
  const lg = document.getElementById('legend');
  const x0 = 1059.5, x1 = 1932, top = 1222, bottom = 1279;
  const pitch = (x1 - x0) / colorScale.length;
  const frame = mk('rect', lg, {x: x0, y: top, width: x1 - x0, height: bottom - top, fill: '#000'});
  
  
  colorScale.forEach((c, i) => {
    const cell = mk('rect', lg, {x: x0 + i * pitch + 1.4, y: top + 3, width: pitch - 2.8, height: bottom - top - 5.5, fill: c});
    
    
  });
  const zeroX = 1475.5, perUnit = 41.45;
  legendTicks.forEach(v => {
    const t = mk('text', lg, {x: zeroX + perUnit * v, y: 1314, 'font-size': 30, 'text-anchor': 'middle'});
    t.textContent = String(v);
    
    
  });
})();
</script>
</body>
</html>
